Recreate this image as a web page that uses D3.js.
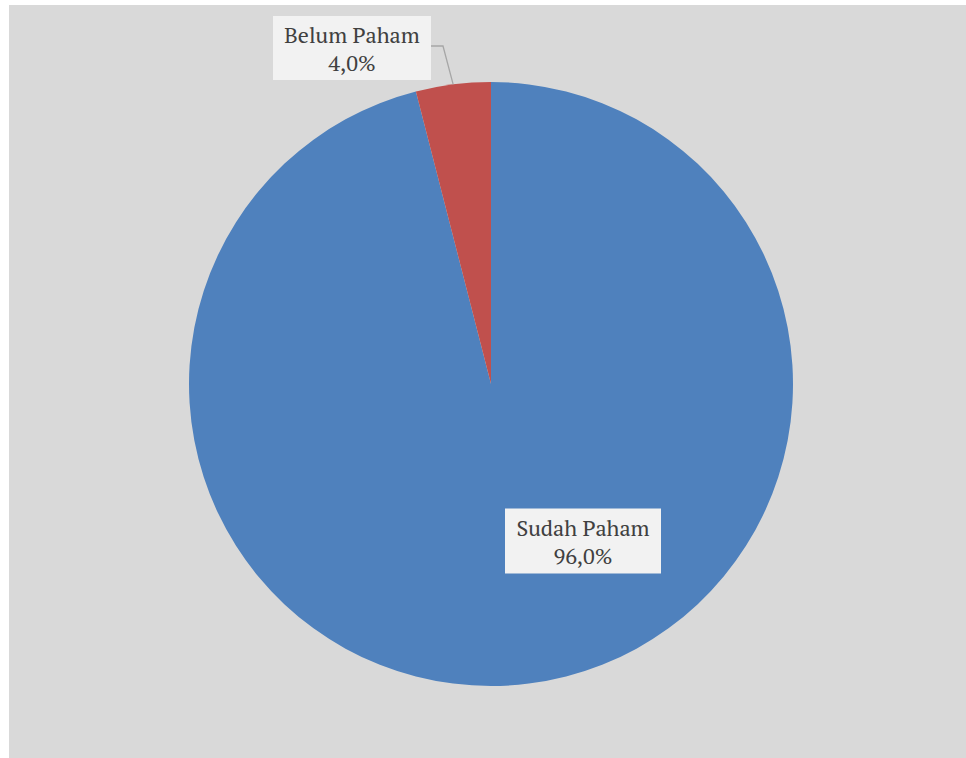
<!DOCTYPE html>
<html>
<head>
<meta charset="utf-8">
<script src="https://cdn.jsdelivr.net/npm/d3@7"></script>
<style>
  body { margin: 0; background: #ffffff; }
  text { font-family: "PT Serif", Cambria, "DejaVu Serif", serif; }
</style>
</head>
<body>
<div id="my_dataviz"></div>
<script>
// data
var categories = ["Sudah Paham", "Belum Paham"];
var values = [96.0, 4.0];
var colors = ["#4f81bd", "#c0504d"];

var width = 966, height = 758;
var cx = 491, cy = 384, radius = 302;

var svg = d3.select("#my_dataviz")
    .append("svg")
    .attr("width", width)
    .attr("height", height);

// chart area background
svg.append("rect")
    .attr("x", 9).attr("y", 5)
    .attr("width", width - 9).attr("height", height - 5)
    .attr("fill", "#d9d9d9");

var g = svg.append("g")
    .attr("transform", "translate(" + cx + "," + cy + ")");

var pie = d3.pie().sort(null).value(function(d) { return d; });
var arcs = pie(values);

var arc = d3.arc().innerRadius(0).outerRadius(radius);

g.selectAll("path")
    .data(arcs)
    .enter()
    .append("path")
    .attr("d", arc)
    .attr("fill", function(d, i) { return colors[i]; });

var fmt = function(v) { return v.toFixed(1).replace(".", ",") + "%"; };

// label boxes: offset from pie center
var labelPos = [
  {x: 92, y: 157, w: 156, h: 65},
  {x: -139, y: -336, w: 158, h: 64}
];

// leader line for the small slice
var edge = d3.arc().innerRadius(radius).outerRadius(radius);
var p = edge.centroid(arcs[1]);
var lp = labelPos[1];
g.append("path")
    .attr("d", d3.line()([[lp.x + lp.w / 2, lp.y - 2], [lp.x + lp.w / 2 + 12, lp.y - 2], p]))
    .attr("fill", "none")
    .attr("stroke", "#a6a6a6")
    .attr("stroke-width", 1.3);

var labels = g.selectAll(".lbl")
    .data(arcs)
    .enter()
    .append("g")
    .attr("class", "lbl")
    .attr("transform", function(d, i) { return "translate(" + labelPos[i].x + "," + labelPos[i].y + ")"; });

labels.append("rect")
    .attr("x", function(d, i) { return -labelPos[i].w / 2; })
    .attr("y", function(d, i) { return -labelPos[i].h / 2; })
    .attr("width", function(d, i) { return labelPos[i].w; })
    .attr("height", function(d, i) { return labelPos[i].h; })
    .attr("fill", "#f2f2f2");

labels.append("text")
    .attr("text-anchor", "middle")
    .attr("y", -5)
    .attr("fill", "#404040")
    .style("font-size", "22px")
    .text(function(d, i) { return categories[i]; });

labels.append("text")
    .attr("text-anchor", "middle")
    .attr("y", 23)
    .attr("fill", "#404040")
    .style("font-size", "22px")
    .text(function(d, i) { return fmt(values[i]); });
</script>
</body>
</html>
